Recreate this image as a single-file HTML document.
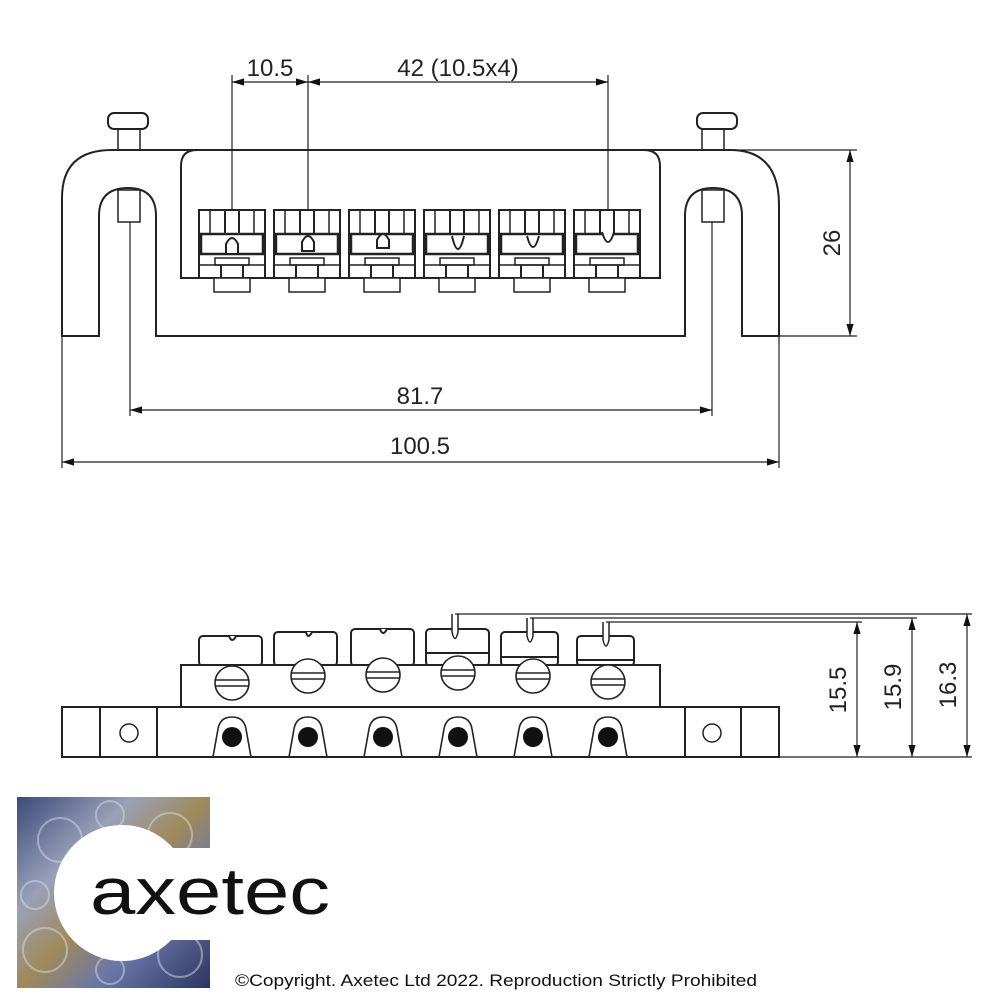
<!DOCTYPE html>
<html><head><meta charset="utf-8"><style>
html,body{margin:0;padding:0;background:#fff;width:1000px;height:1000px;overflow:hidden}
svg{display:block}
text{font-family:"Liberation Sans",sans-serif;fill:#222}
</style></head><body>
<svg width="1000" height="1000" viewBox="0 0 1000 1000" xmlns="http://www.w3.org/2000/svg">
<defs>
<marker id="a" viewBox="0 0 10 10" refX="10" refY="5" markerWidth="12" markerHeight="12" markerUnits="userSpaceOnUse" orient="auto-start-reverse"><path d="M0,2 L10,5 L0,8 z" fill="#111"/></marker>
<linearGradient id="lg" x1="0" y1="0" x2="1" y2="1">
<stop offset="0" stop-color="#3b4a7a"/><stop offset="0.3" stop-color="#9aa0b8"/><stop offset="0.5" stop-color="#a08a5a"/><stop offset="0.7" stop-color="#6a76a8"/><stop offset="1" stop-color="#2c3560"/></linearGradient>
<g id="sad">
<rect x="0" y="0" width="66" height="68" fill="none" stroke="#222" stroke-width="2"/>
<line x1="11" y1="0" x2="11" y2="24" stroke="#222" stroke-width="1.5"/>
<line x1="26" y1="0" x2="26" y2="24" stroke="#222" stroke-width="2"/>
<line x1="40" y1="0" x2="40" y2="24" stroke="#222" stroke-width="2"/>
<line x1="55" y1="0" x2="55" y2="24" stroke="#222" stroke-width="1.5"/>
<rect x="2" y="24" width="62" height="20" fill="#fff" stroke="#222" stroke-width="2.5"/>
<rect x="16" y="48" width="34" height="7" fill="none" stroke="#222" stroke-width="1.5"/>
<line x1="0" y1="55" x2="66" y2="55" stroke="#222" stroke-width="1.5"/>
<line x1="22" y1="55" x2="22" y2="68" stroke="#222" stroke-width="2"/>
<line x1="44" y1="55" x2="44" y2="68" stroke="#222" stroke-width="2"/>
<rect x="15" y="68" width="36" height="14" fill="#fff" stroke="#222" stroke-width="1.5"/>
</g>
<g id="tab"><path d="M-19,20 L-14,-8 Q-12,-20 0,-20 Q12,-20 14,-8 L19,20" fill="none" stroke="#222" stroke-width="1.6"/><circle cx="0" cy="0" r="10" fill="#111"/></g>
<g id="scr"><circle r="17" fill="#fff" stroke="#222" stroke-width="1.6"/><line x1="-16" y1="-3" x2="16" y2="-3" stroke="#222" stroke-width="1.5"/><line x1="-16" y1="3" x2="16" y2="3" stroke="#222" stroke-width="1.5"/></g>
</defs>
<g fill="none" stroke="#222" stroke-width="2">
<path d="M62,336 L62,198 Q62,150 112,150 L730,150 Q779,150 779,205 L779,336 L742,336 L742,216 Q742,188 713,188 Q685,188 685,216 L685,336 L156,336 L156,216 Q156,188 128,188 Q99,188 99,216 L99,336 Z"/>
<path d="M181,278 L181,166 Q181,150 197,150 L644,150 Q660,150 660,166 L660,278 Z"/>
<rect x="108" y="113" width="40" height="16" rx="6"/>
<rect x="118" y="129" width="22" height="21" stroke-width="1.5"/>
<rect x="697" y="113" width="40" height="16" rx="6"/>
<rect x="702" y="129" width="22" height="21" stroke-width="1.5"/>
<rect x="118" y="190" width="22" height="32" stroke-width="1.5"/>
<rect x="702" y="190" width="22" height="32" stroke-width="1.5"/>
</g>
<use href="#sad" x="199" y="210"/><use href="#sad" x="274" y="210"/><use href="#sad" x="349" y="210"/>
<use href="#sad" x="424" y="210"/><use href="#sad" x="499" y="210"/><use href="#sad" x="574" y="210"/>
<g fill="#fff" stroke="#222" stroke-width="2">
<path d="M226,254 L226,244 Q232,232 238,244 L238,254 Z"/>
<path d="M302,251 L302,242 Q308,230 314,242 L314,251 Z"/>
<path d="M377,248 L377,240 Q383,228 389,240 L389,248 Z"/>
<path d="M452,236 Q458,262 464,236"/>
<path d="M527,236 Q533,258 539,236"/>
<path d="M602,232 Q608,252 614,232"/>
</g>
<g stroke="#222" stroke-width="1.2" fill="none">
<line x1="232" y1="75" x2="232" y2="210"/><line x1="308" y1="75" x2="308" y2="210"/><line x1="608" y1="75" x2="608" y2="210"/>
<line x1="232" y1="82" x2="308" y2="82" marker-start="url(#a)" marker-end="url(#a)"/>
<line x1="308" y1="82" x2="608" y2="82" marker-start="url(#a)" marker-end="url(#a)"/>
<line x1="735" y1="150" x2="857" y2="150"/><line x1="779" y1="336" x2="857" y2="336"/>
<line x1="850" y1="150" x2="850" y2="336" marker-start="url(#a)" marker-end="url(#a)"/>
<line x1="130" y1="222" x2="130" y2="416"/><line x1="712" y1="222" x2="712" y2="416"/>
<line x1="130" y1="410" x2="712" y2="410" marker-start="url(#a)" marker-end="url(#a)"/>
<line x1="62" y1="336" x2="62" y2="468"/><line x1="779" y1="336" x2="779" y2="468"/>
<line x1="62" y1="462" x2="779" y2="462" marker-start="url(#a)" marker-end="url(#a)"/>
</g>
<text x="270" y="76" font-size="24" text-anchor="middle">10.5</text>
<text x="458" y="76" font-size="24" text-anchor="middle">42 (10.5x4)</text>
<text x="420" y="404" font-size="24" text-anchor="middle">81.7</text>
<text x="420" y="454" font-size="24" text-anchor="middle">100.5</text>
<text transform="translate(840,243) rotate(-90)" font-size="24" text-anchor="middle">26</text>
<g fill="none" stroke="#222" stroke-width="2">
<rect x="199" y="636" width="63" height="30" rx="4"/>
<rect x="274" y="632" width="63" height="34" rx="4"/>
<rect x="351" y="629" width="63" height="37" rx="4"/>
<rect x="426" y="629" width="63" height="37" rx="4"/><line x1="426" y1="653" x2="489" y2="653"/>
<rect x="501" y="632" width="57" height="34" rx="4"/><line x1="501" y1="657" x2="558" y2="657"/>
<rect x="577" y="636" width="57" height="30" rx="4"/><line x1="577" y1="660" x2="634" y2="660"/>
<rect x="181" y="665" width="479" height="42" fill="#fff"/>
<rect x="62" y="707" width="717" height="50"/>
<line x1="100" y1="707" x2="100" y2="757"/><line x1="157" y1="707" x2="157" y2="757"/>
<line x1="685" y1="707" x2="685" y2="757"/><line x1="741" y1="707" x2="741" y2="757"/>
<circle cx="129" cy="733" r="9" stroke-width="1.5"/><circle cx="712" cy="733" r="9" stroke-width="1.5"/>
<path d="M229,636 Q232,644 236,636" fill="#fff"/><path d="M306,632 Q308,640 312,632" fill="#fff"/><path d="M380,629 Q383,637 387,629" fill="#fff"/>
</g>
<use href="#scr" x="232" y="683"/><use href="#scr" x="308" y="676"/><use href="#scr" x="383" y="675"/>
<use href="#scr" x="458" y="673"/><use href="#scr" x="533" y="676"/><use href="#scr" x="608" y="682"/>
<use href="#tab" x="232" y="737"/><use href="#tab" x="308" y="737"/><use href="#tab" x="383" y="737"/>
<use href="#tab" x="458" y="737"/><use href="#tab" x="533" y="737"/><use href="#tab" x="608" y="737"/>
<g fill="#fff" stroke="#222" stroke-width="1.5">
<path d="M452,614 L452,632 Q455,645 458,632 L458,614"/>
<path d="M527,618 L527,636 Q530,648 533,636 L533,618"/>
<path d="M603,622 L603,640 Q606,652 609,640 L609,622"/>
</g>
<g stroke="#222" stroke-width="1.2" fill="none">
<line x1="455" y1="614" x2="972" y2="614"/>
<line x1="530" y1="618" x2="917" y2="618"/>
<line x1="606" y1="622" x2="862" y2="622"/>
<line x1="779" y1="757" x2="972" y2="757"/>
<line x1="857" y1="622" x2="857" y2="757" marker-start="url(#a)" marker-end="url(#a)"/>
<line x1="912" y1="618" x2="912" y2="757" marker-start="url(#a)" marker-end="url(#a)"/>
<line x1="967" y1="614" x2="967" y2="757" marker-start="url(#a)" marker-end="url(#a)"/>
</g>
<text transform="translate(846,690) rotate(-90)" font-size="24" text-anchor="middle">15.5</text>
<text transform="translate(901,687) rotate(-90)" font-size="24" text-anchor="middle">15.9</text>
<text transform="translate(956,685) rotate(-90)" font-size="24" text-anchor="middle">16.3</text>
<rect x="17" y="797" width="193" height="191" fill="url(#lg)"/>
<g stroke="#d8dce6" stroke-width="2" opacity="0.5" fill="none">
<circle cx="60" cy="840" r="22"/><circle cx="170" cy="835" r="22"/><circle cx="45" cy="950" r="22"/><circle cx="180" cy="955" r="22"/><circle cx="110" cy="815" r="14"/><circle cx="110" cy="970" r="14"/><circle cx="35" cy="895" r="14"/>
</g>
<circle cx="122" cy="893" r="68" fill="#fff"/>
<rect x="122" y="848" width="90" height="92" fill="#fff"/>
<text x="90" y="914" font-size="66" textLength="240" lengthAdjust="spacingAndGlyphs" style="fill:#111">axetec</text>
<text x="235" y="986" font-size="17" textLength="522" lengthAdjust="spacingAndGlyphs" style="fill:#111">©Copyright. Axetec Ltd 2022.  Reproduction Strictly Prohibited</text>
</svg>
</body></html>
